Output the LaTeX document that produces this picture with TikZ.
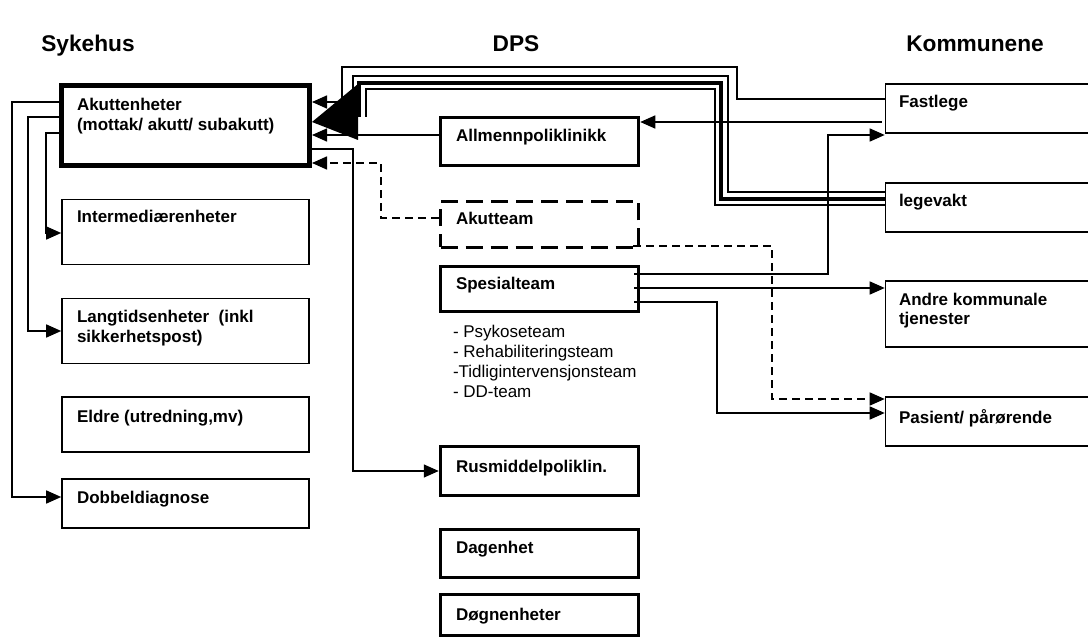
\documentclass[tikz,border=0pt]{standalone}
\usepackage{fontspec}
\setmainfont{Liberation Sans}
\usetikzlibrary{arrows.meta,calc}
\begin{document}
\begin{tikzpicture}[x=1pt,y=-1pt,
  thinbox/.style={draw,line width=1.6pt,inner sep=0pt,rectangle},
  midbox/.style={draw,line width=3.5pt,inner sep=0pt,rectangle},
  dashbox/.style={draw,line width=3.5pt,inner sep=0pt,rectangle,dash pattern=on 17pt off 8pt},
  txt/.style={anchor=base west,inner sep=0pt,outer sep=0pt,align=left,font=\fontsize{17}{20}\selectfont\bfseries},
  listtxt/.style={anchor=base west,inner sep=0pt,outer sep=0pt,align=left,font=\fontsize{17}{20}\selectfont},
  hdr/.style={anchor=base,inner sep=0pt,font=\fontsize{22.7}{26}\selectfont\bfseries},
  conn/.style={line width=1.5pt},
  arr/.style={line width=1.5pt,-{Triangle[length=15pt,width=13pt]}},
  darr/.style={line width=1.5pt,dash pattern=on 8pt off 5pt,-{Triangle[length=15pt,width=13pt]}},
  tripleouter/.style={line width=15pt,line join=miter},
  triplewhite/.style={line width=11pt,white,line join=miter},
  triplecore/.style={line width=4pt,line join=miter}]
\fill[white] (0,0) rectangle (1088,639);
\clip (0,0) rectangle (1088,639);

% headers
\node[hdr] (hs) at (88,52) {Sykehus};
\node[hdr] (hd) at (516,52) {DPS};
\node[hdr] (hk) at (975,52) {Kommunene};

% left column
\node[draw,line width=5pt,inner sep=0pt,minimum width=248pt,minimum height=80pt] (akut) at (185.5,125.5) {};
\node[thinbox,minimum width=247pt,minimum height=65pt] (inter) at (185.5,232) {};
\node[thinbox,minimum width=247pt,minimum height=65pt] (lang) at (185.5,331) {};
\node[thinbox,minimum width=247pt,minimum height=55pt] (eldre) at (185.5,424.5) {};
\node[thinbox,minimum width=247pt,minimum height=49pt] (dobbel) at (185.5,503.5) {};

% middle column
\node[midbox,minimum width=198pt,minimum height=48pt] (allm) at (539.5,141.5) {};
\node[dashbox,minimum width=198pt,minimum height=46pt] (akutteam) at (539.5,224.5) {};
\node[midbox,minimum width=198pt,minimum height=45pt] (spes) at (539.5,289) {};
\node[midbox,minimum width=198pt,minimum height=49pt] (rus) at (539.5,471) {};
\node[midbox,minimum width=198pt,minimum height=48pt] (dag) at (539.5,553.5) {};
\node[midbox,minimum width=198pt,minimum height=41pt] (dogn) at (539.5,615) {};

% right column
\node[thinbox,minimum width=215pt,minimum height=49pt] (fast) at (993,108.5) {};
\node[thinbox,minimum width=215pt,minimum height=49pt] (lege) at (993,207.5) {};
\node[thinbox,minimum width=215pt,minimum height=66pt] (andre) at (993,314) {};
\node[thinbox,minimum width=215pt,minimum height=49pt] (pas) at (993,421.5) {};

% texts (base anchor = baseline of last line)
\node[txt] (takut) at (77,131) {Akuttenheter\\(mottak/ akutt/ subakutt)};
\node[txt] (tinter) at (77,223) {Intermediærenheter};
\node[txt] (tlang) at (77,342) {Langtidsenheter\ \ (inkl\\sikkerhetspost)};
\node[txt] (teldre) at (77,422) {Eldre (utredning,mv)};
\node[txt] (tdobbel) at (77,503) {Dobbeldiagnose};
\node[txt] (tallm) at (456,142) {Allmennpoliklinikk};
\node[txt] (takutteam) at (456,225) {Akutteam};
\node[txt] (tspes) at (456,290) {Spesialteam};
\node[listtxt] (tliste) at (453,397) {- Psykoseteam\\- Rehabiliteringsteam\\-Tidligintervensjonsteam\\- DD-team};
\node[txt] (trus) at (456,472) {Rusmiddelpoliklin.};
\node[txt] (tdag) at (456,553) {Dagenhet};
\node[txt] (tdogn) at (456,620) {Døgnenheter};
\node[txt] (tfast) at (899,108) {Fastlege};
\node[txt] (tlege) at (899,207) {legevakt};
\node[txt] (tandre) at (899,325) {Andre kommunale\\tjenester};
\node[txt] (tpas) at (899,423) {Pasient/ pårørende};

% triple line legevakt -> akuttenheter
\coordinate (tA) at (lege.west |- 0,199);
\coordinate (tB) at (721,199);
\coordinate (tC) at (721,83);
\coordinate (tD) at (359,83);
\coordinate (tE) at (359,117);
\draw[tripleouter] (tA) -- (tB) -- (tC) -- (tD) -- (tE);
\draw[triplewhite] (tA) -- (tB) -- (tC) -- (tD) -- (tE);
\draw[triplecore] (tA) -- (tB) -- (tC) -- (tD) -- (tE);
\coordinate (bigtip) at (akut.east |- 0,122);
\fill ($(bigtip)+(46,-38)$) -- ($(bigtip)+(46,18)$) -- (bigtip) -- cycle;

% fastlege thin line -> akuttenheter
\draw[arr] (fast.west |- 0,99) -- (737,99) -- (737,67) -- (342,67) -- (342,102) -- (akut.east |- 0,102);

% allmenn -> akuttenheter
\draw[arr] (allm.west |- 0,135) -- (akut.east |- 0,135);
% akutteam -> akuttenheter (dashed)
\draw[darr] (akutteam.west |- 0,218) -- (381,218) -- (381,163) -- (akut.east |- 0,163);
% akuttenheter -> rusmiddel
\draw[arr] (akut.east |- 0,149) -- (353,149) -- (353,471) -- (rus.west |- 0,471);

% left side
\draw[arr] (akut.west |- 0,102) -- (12,102) -- (12,497) -- (dobbel.west |- 0,497);
\draw[arr] (akut.west |- 0,117) -- (28,117) -- (28,331) -- (lang.west |- 0,331);
\draw[arr] (akut.west |- 0,133) -- (46,133) -- (46,233) -- (inter.west |- 0,233);

% fastlege -> allmenn
\draw[arr] ($(fast.west |- 0,122)+(-3,0)$) -- (allm.east |- 0,122);

% spesialteam connectors
\draw[arr] ($(spes.east |- 0,274)+(-6,0)$) -- (828,274) -- (828,135) -- (fast.west |- 0,135);
\draw[arr] ($(spes.east |- 0,288)+(-6,0)$) -- (andre.west |- 0,288);
\draw[arr] ($(spes.east |- 0,302)+(-6,0)$) -- (717,302) -- (717,413) -- (pas.west |- 0,413);
% akutteam -> pasient (dashed)
\draw[darr] ($(akutteam.east |- 0,246)+(-7,0)$) -- (772,246) -- (772,399) -- (pas.west |- 0,399);
\end{tikzpicture}
\end{document}
